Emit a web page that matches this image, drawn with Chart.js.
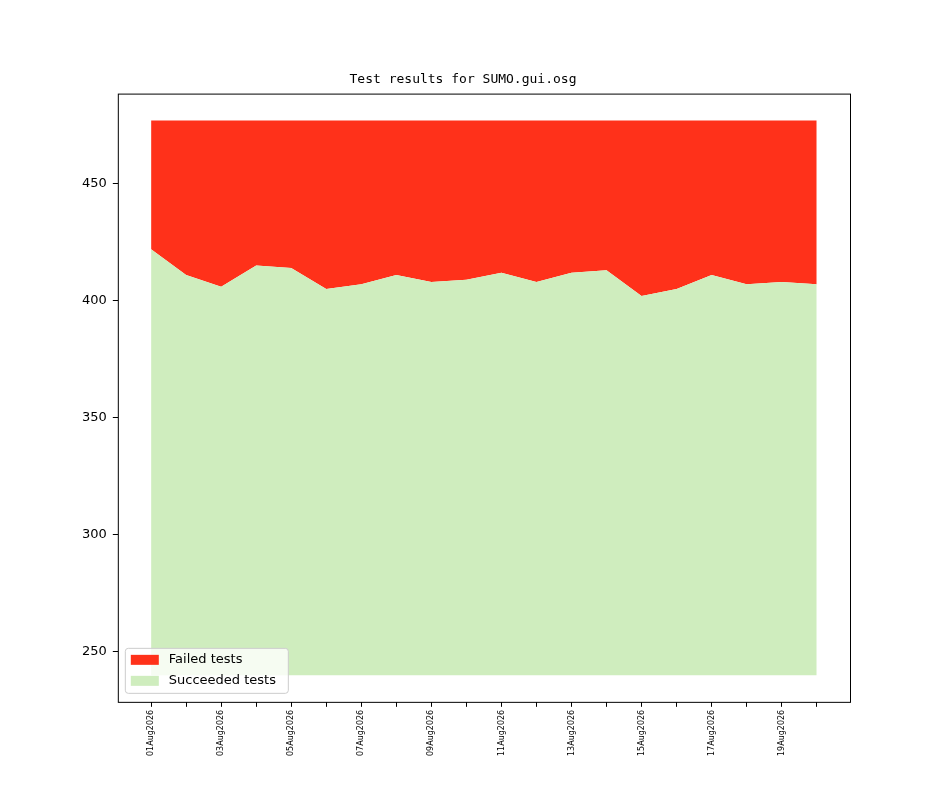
<!DOCTYPE html>
<html><head><meta charset="utf-8">
<script src="https://cdn.jsdelivr.net/npm/chart.js@4"></script>
<style>html,body{margin:0;padding:0;background:#fff}#w{width:944px;height:787px}</style>
</head><body><div id="w"><canvas id="c"></canvas></div>
<script>
const dates=["01Aug2026","02Aug2026","03Aug2026","04Aug2026","05Aug2026","06Aug2026","07Aug2026","08Aug2026","09Aug2026","10Aug2026","11Aug2026","12Aug2026","13Aug2026","14Aug2026","15Aug2026","16Aug2026","17Aug2026","18Aug2026","19Aug2026","20Aug2026"];
const succeeded=[422,411,406,415,414,405,407,411,408,409,412,408,412,413,402,405,411,407,408,407];
const totals=[477,477,477,477,477,477,477,477,477,477,477,477,477,477,477,477,477,477,477,477];
const baseLine=240;
const pts=a=>a.map((v,i)=>({x:i,y:v}));
const legendPlugin={id:'lg',afterDraw(ch){const c=ch.ctx,a=ch.chartArea;c.save();
const x=a.left+7,y=a.bottom-54;c.fillStyle='rgba(255,255,255,0.8)';c.strokeStyle='#ccc';c.lineWidth=1;
c.beginPath();c.roundRect(x+0.5,y+0.5,163,45,3);c.fill();c.stroke();
c.font='13px "DejaVu Sans"';c.textBaseline='middle';
c.fillStyle='#ff311a';c.fillRect(x+6,y+7,28,10);c.fillStyle='#000';c.fillText('Failed tests',x+44,y+12);
c.fillStyle='#cfedbe';c.fillRect(x+6,y+28,28,10);c.fillStyle='#000';c.fillText('Succeeded tests',x+44,y+33);
c.restore();}};
const frame={id:'fr',afterDatasetsDraw(ch){const c=ch.ctx,a=ch.chartArea;c.save();c.strokeStyle='#000';c.lineWidth=1;c.strokeRect(a.left+0.5,a.top+0.5,a.right-a.left,a.bottom-a.top);c.restore();}};
new Chart(document.getElementById('c'),{type:'line',
data:{datasets:[
{label:'Succeeded tests',data:pts(succeeded),fill:{value:baseLine},backgroundColor:'#cfedbe',borderWidth:0,pointRadius:0,tension:0},
{label:'Failed tests',data:pts(totals),fill:'-1',backgroundColor:'#ff311a',borderWidth:0,pointRadius:0,tension:0}
]},
options:{responsive:true,maintainAspectRatio:false,animation:false,
layout:{padding:{left:76,right:94,top:0,bottom:28}},
plugins:{legend:{display:false},tooltip:{enabled:false},
title:{display:true,text:'Test results for SUMO.gui.osg',font:{family:'DejaVu Sans Mono',size:13,weight:'normal'},color:'#000',padding:{top:72,bottom:6}}},
scales:{
x:{type:'linear',min:-0.95,max:19.95,border:{display:false},
grid:{drawOnChartArea:false,drawTicks:true,tickLength:5,color:'#000'},
afterBuildTicks(s){s.ticks=dates.map((d,i)=>({value:i}));},
ticks:{autoSkip:false,maxRotation:90,minRotation:90,color:'#000',font:{family:'DejaVu Sans',size:8},callback:(v)=>v%2===0?dates[v]:''}},
y:{min:228.6,max:488.5,border:{display:false},
grid:{drawOnChartArea:false,drawTicks:true,tickLength:5,color:'#000'},
afterBuildTicks(s){s.ticks=[250,300,350,400,450].map(v=>({value:v}));},
ticks:{color:'#000',font:{family:'DejaVu Sans',size:13},padding:6}}
}},
plugins:[legendPlugin,frame]});
</script></body></html>
